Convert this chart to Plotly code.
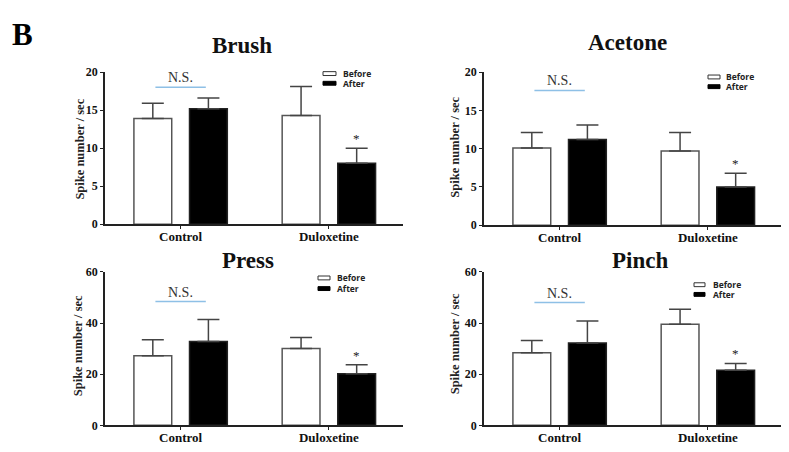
import plotly.graph_objects as go

# the page body keeps its default 8px margin, so the figure starts at (8, 8)
PAGE_OFF = 8
W, H = 789 - PAGE_OFF, 452 - PAGE_OFF


def px(x):
    return (x - PAGE_OFF) / W


def py(y):
    return 1 - (y - PAGE_OFF) / H


# ---- data ----
categories = ["Control", "Duloxetine"]

brush_before = [13.9, 14.3]
brush_before_err = [2.0, 3.8]
brush_after = [15.2, 8.0]
brush_after_err = [1.4, 2.0]

acetone_before = [10.1, 9.7]
acetone_before_err = [2.0, 2.4]
acetone_after = [11.2, 5.0]
acetone_after_err = [1.9, 1.8]

press_before = [27.2, 30.1]
press_before_err = [6.3, 4.3]
press_after = [32.8, 20.2]
press_after_err = [8.6, 3.5]

pinch_before = [28.4, 39.5]
pinch_before_err = [4.8, 5.9]
pinch_after = [32.2, 21.5]
pinch_after_err = [8.6, 2.7]

series_names = ["Before", "After"]
y_title = "Spike number / sec"

# ---- panel layout (pixel positions in the 789x452 page) ----
panels = [
    dict(title="Brush", data=(brush_before, brush_before_err, brush_after, brush_after_err),
         xdom=(105, 403), ydom=(224, 67), ymax=20, dtick=5, title_xy=(242, 40),
         ytitle_xy=(80, 147), ns_y=18.0, leg=(323, 336, 68.5, 78.5, 341)),
    dict(title="Acetone", data=(acetone_before, acetone_before_err, acetone_after, acetone_after_err),
         xdom=(484, 782), ydom=(225, 67), ymax=20, dtick=5, title_xy=(627, 36),
         ytitle_xy=(455, 145), ns_y=17.6, leg=(708, 720, 72, 82, 724)),
    dict(title="Press", data=(press_before, press_before_err, press_after, press_after_err),
         xdom=(105, 403), ydom=(431.7, 273.3), ymax=60, dtick=20, title_xy=(248, 261),
         ytitle_xy=(78, 350), ns_y=48.4, leg=(318, 330, 279.5, 290.5, 335)),
    dict(title="Pinch", data=(pinch_before, pinch_before_err, pinch_after, pinch_after_err),
         xdom=(484, 782), ydom=(431.7, 273.3), ymax=60, dtick=20, title_xy=(640, 262),
         ytitle_xy=(455, 348), ns_y=48.0, leg=(694, 705, 286.5, 296.5, 711)),
]

SERIF = "Liberation Serif"
SANS = "Open Sans"
BAR_W = 0.255
OFF_BEFORE = -0.315
OFF_AFTER = 0.06

fig = go.Figure()
annotations = []
shapes = []

for i, p in enumerate(panels, start=1):
    sfx = "" if i == 1 else str(i)
    xa, ya = "x" + sfx, "y" + sfx
    before, before_err, after, after_err = p["data"]

    fig.add_trace(go.Bar(
        x=categories, y=before, name=series_names[0], xaxis=xa, yaxis=ya,
        width=BAR_W, offset=OFF_BEFORE, showlegend=False,
        marker=dict(color="white", line=dict(color="#555555", width=1.5)),
        error_y=dict(type="data", symmetric=False, array=before_err, arrayminus=[0, 0],
                     color="#444444", thickness=1.5, width=11),
    ))
    fig.add_trace(go.Bar(
        x=categories, y=after, name=series_names[1], xaxis=xa, yaxis=ya,
        width=BAR_W, offset=OFF_AFTER, showlegend=False,
        marker=dict(color="black", line=dict(color="#222222", width=1.5)),
        error_y=dict(type="data", symmetric=False, array=after_err, arrayminus=[0, 0],
                     color="#444444", thickness=1.5, width=11),
    ))

    axis_common = dict(showline=True, linecolor="#222222", linewidth=1.5,
                       ticks="outside", ticklen=3, tickcolor="#222222", tickwidth=1.2,
                       showgrid=False, zeroline=False)
    fig.layout["xaxis" + sfx] = dict(
        domain=[px(p["xdom"][0]), px(p["xdom"][1])], anchor=ya,
        type="category", range=[-0.51, 1.5], ticklabelstandoff=-4,
        tickfont=dict(family=SERIF, size=13, color="#111111", weight="bold"),
        **axis_common)
    fig.layout["yaxis" + sfx] = dict(
        domain=[py(p["ydom"][0]), py(p["ydom"][1])], anchor=xa,
        range=[0, p["ymax"]], dtick=p["dtick"],
        tickfont=dict(family=SERIF, size=12, color="#111111", weight="bold"),
        **axis_common)

    # panel title
    annotations.append(dict(x=px(p["title_xy"][0]), y=py(p["title_xy"][1]), xref="paper", yref="paper",
                            text=p["title"], showarrow=False, xanchor="center", yanchor="middle",
                            font=dict(family=SERIF, size=23, color="#111111", weight="bold")))
    # y axis title
    annotations.append(dict(x=px(p["ytitle_xy"][0]), y=py(p["ytitle_xy"][1]), xref="paper", yref="paper",
                            text=y_title, showarrow=False, textangle=-90,
                            xanchor="center", yanchor="middle",
                            font=dict(family=SERIF, size=12.5, color="#222222", weight="bold")))
    # N.S. bracket
    shapes.append(dict(type="line", xref=xa, yref=ya, x0=-0.17, x1=0.17,
                       y0=p["ns_y"], y1=p["ns_y"], line=dict(color="#8ec0e6", width=1.5)))
    annotations.append(dict(x=0.0, y=p["ns_y"], xref=xa, yref=ya, text="N.S.", showarrow=False,
                            xanchor="center", yanchor="bottom", yshift=0,
                            font=dict(family=SERIF, size=14, color="#333333")))
    # significance star over the Duloxetine "After" bar
    annotations.append(dict(x=1 + OFF_AFTER + BAR_W / 2, y=after[1] + after_err[1], xref=xa, yref=ya,
                            text="*", showarrow=False, xanchor="center", yanchor="bottom", yshift=0,
                            font=dict(family=SERIF, size=13, color="#222222")))
    # legend
    lx0, lx1, ly_b, ly_a, ltx = p["leg"]
    shapes.append(dict(type="rect", xref="paper", yref="paper", x0=px(lx0), x1=px(lx1),
                       y0=py(ly_b + 2), y1=py(ly_b - 2),
                       fillcolor="white", line=dict(color="#333333", width=1)))
    shapes.append(dict(type="rect", xref="paper", yref="paper", x0=px(lx0), x1=px(lx1),
                       y0=py(ly_a + 2), y1=py(ly_a - 2),
                       fillcolor="black", line=dict(color="black", width=1)))
    for name, ly in zip(series_names, (ly_b, ly_a)):
        annotations.append(dict(x=px(ltx), y=py(ly), xref="paper", yref="paper", text=name,
                                showarrow=False, xanchor="left", yanchor="middle",
                                font=dict(family=SANS, size=8.5, color="#222222", weight="bold")))

# panel letter
annotations.append(dict(x=px(10), y=1, xref="paper", yref="paper", text="B", showarrow=False,
                        xanchor="left", yanchor="top",
                        font=dict(family=SERIF, size=31, color="black", weight="bold")))

fig.update_layout(
    width=W, height=H, margin=dict(l=0, r=0, t=0, b=0),
    paper_bgcolor="white", plot_bgcolor="white",
    annotations=annotations, shapes=shapes, showlegend=False,
)

fig.write_html("out.html")
